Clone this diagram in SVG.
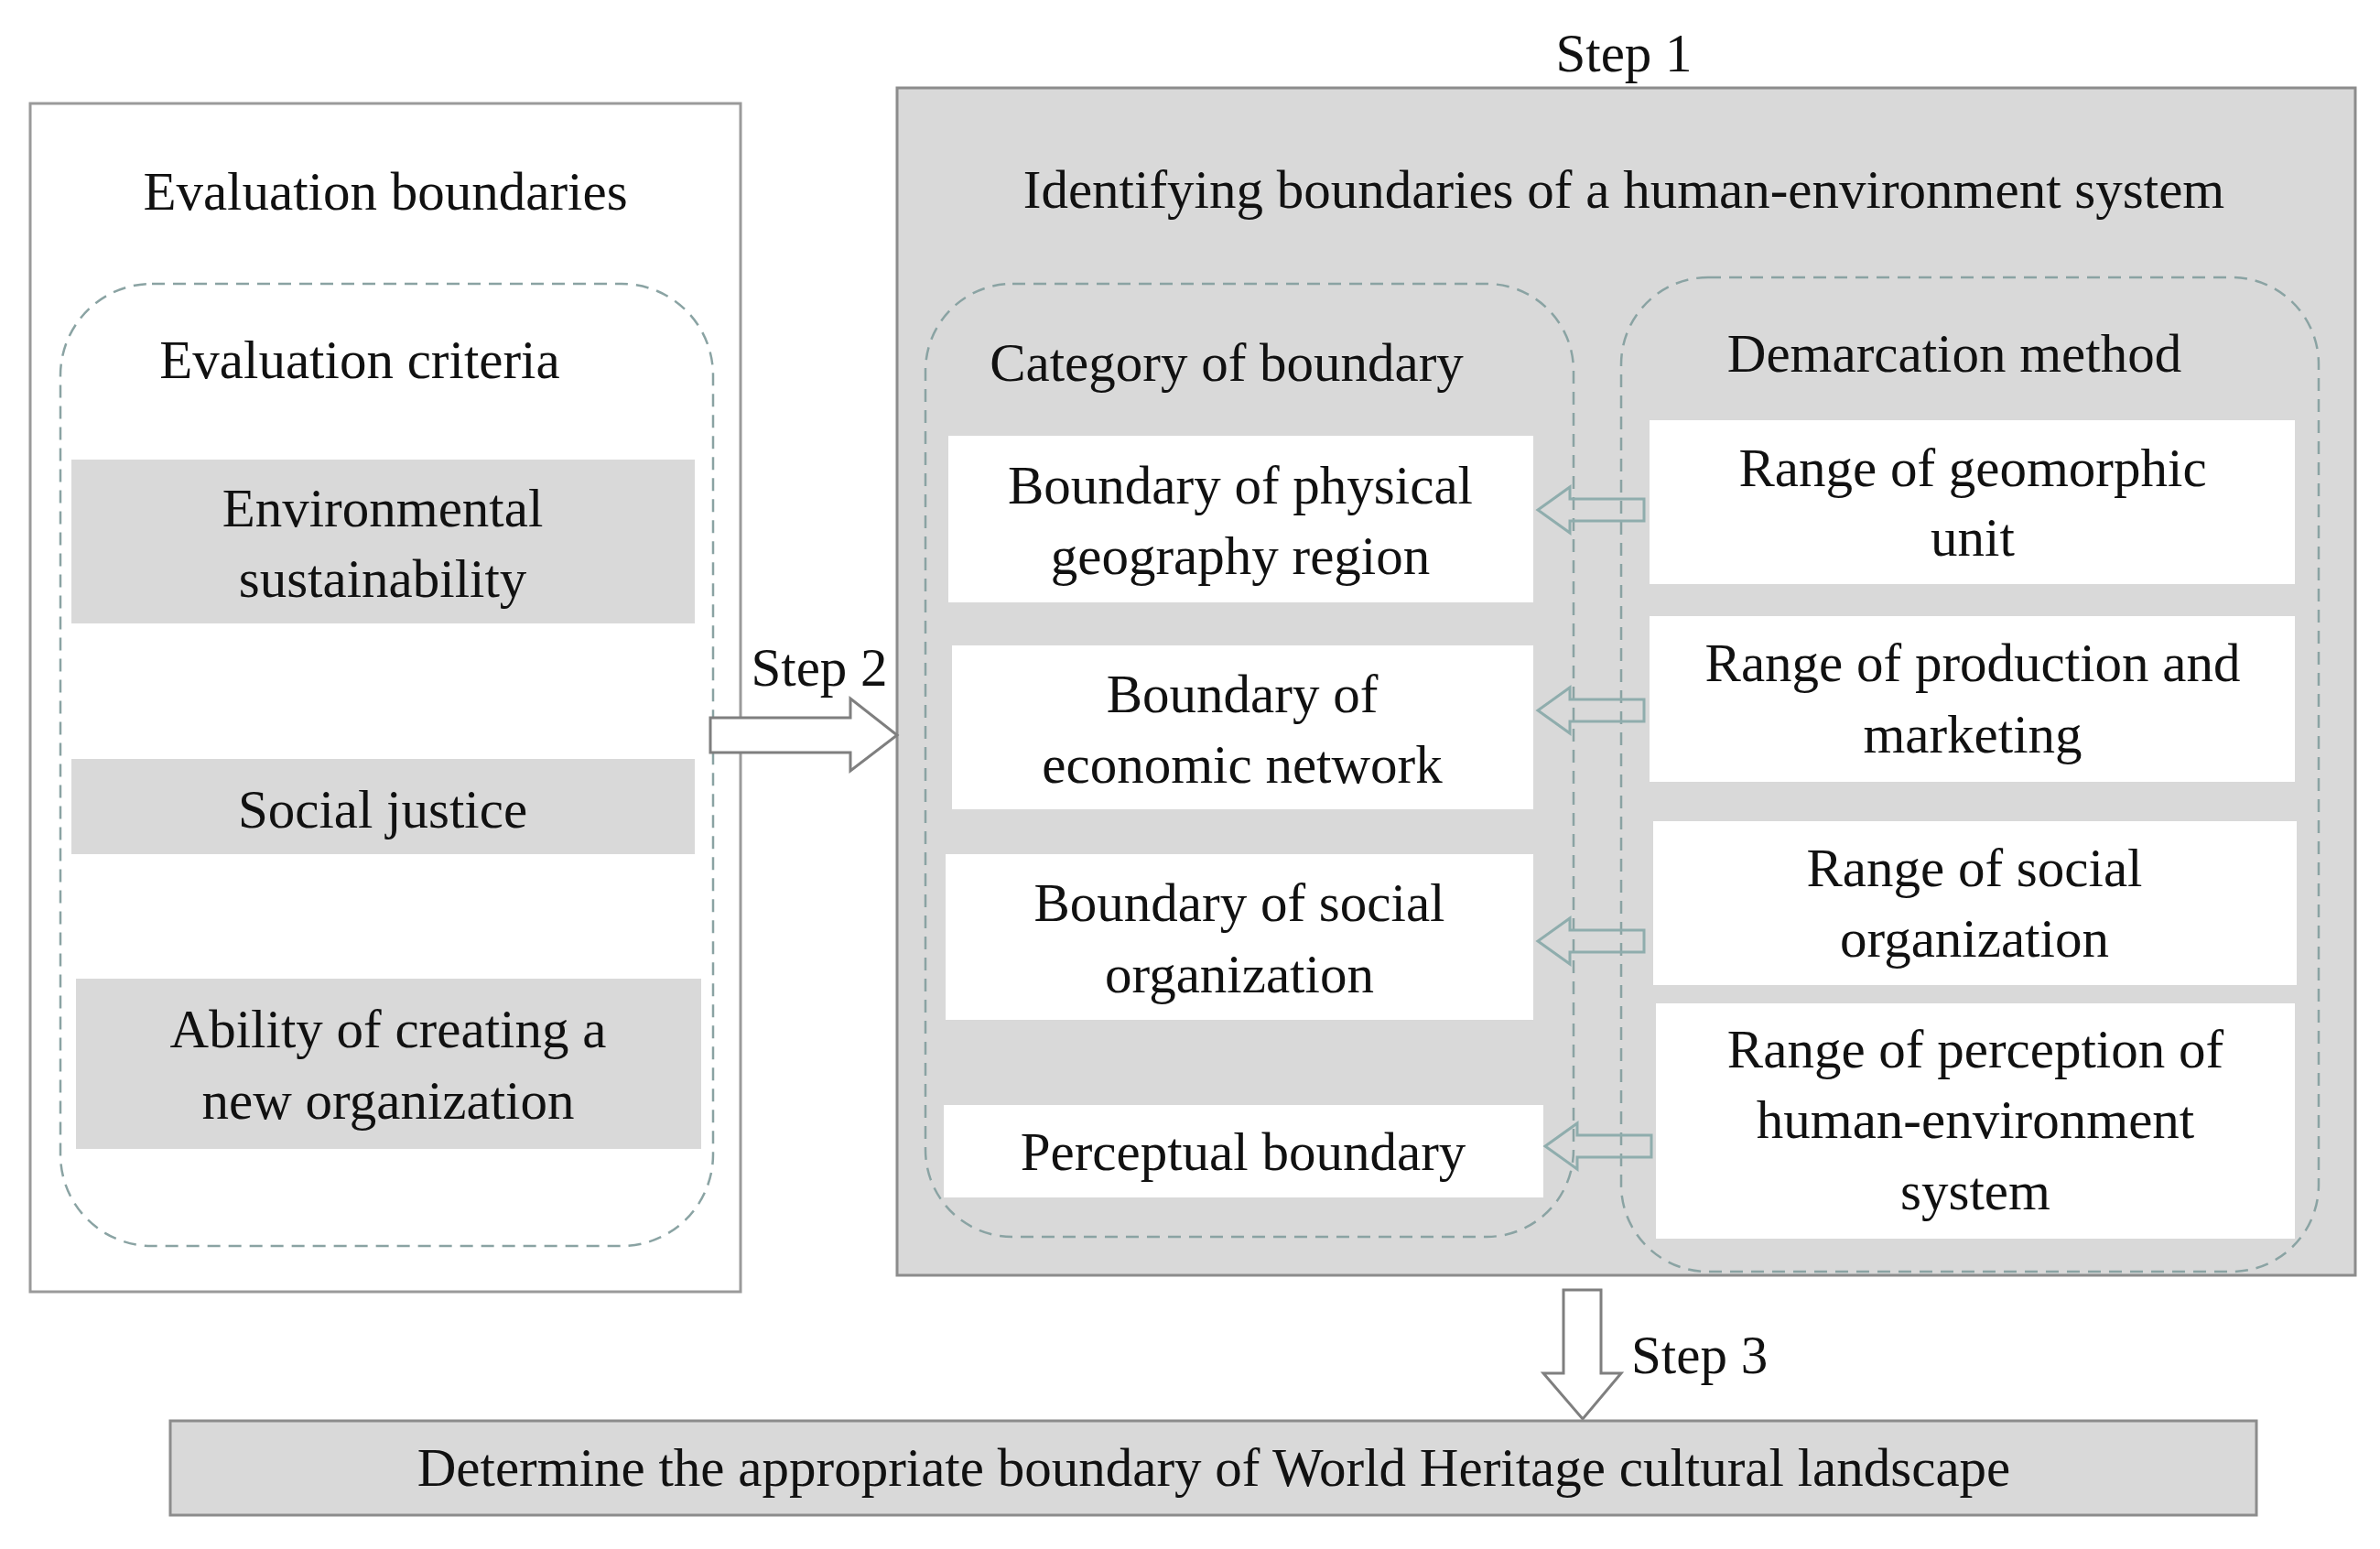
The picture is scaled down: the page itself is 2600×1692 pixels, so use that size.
<svg xmlns="http://www.w3.org/2000/svg" width="2600" height="1692" viewBox="0 0 2600 1692">
<style>
text{font-family:"Liberation Serif","Times New Roman",serif;font-size:59px;fill:#111;text-anchor:middle}
.dash{fill:none;stroke:#8aa3a3;stroke-width:2.5;stroke-dasharray:14 9}
.g{fill:#d9d9d9}
.w{fill:#fff}
.la{fill:none;stroke:#8fadad;stroke-width:3}
.ha{fill:#fff;stroke:#7f7f7f;stroke-width:3}
</style>
<rect width="2600" height="1692" fill="#fff"/>
<g id="eval">
<rect x="33" y="113" width="776" height="1298" fill="#fff" stroke="#9a9a9a" stroke-width="3"/>
<text x="421" y="229">Evaluation boundaries</text>
<rect class="dash" x="66" y="310" width="713" height="1051" rx="100"/>
<text x="393" y="413">Evaluation criteria</text>
<rect class="g" x="78" y="502" width="681" height="179"/>
<text x="418" y="575">Environmental</text><text x="418" y="652">sustainability</text>
<rect class="g" x="78" y="829" width="681" height="104"/>
<text x="418" y="904">Social justice</text>
<rect class="g" x="83" y="1069" width="683" height="186"/>
<text x="424" y="1144">Ability of creating a</text><text x="424" y="1222">new organization</text>
</g>
<g id="step1">
<text x="1774" y="78">Step 1</text>
<rect x="980" y="96" width="1593" height="1297" fill="#d9d9d9" stroke="#8c8c8c" stroke-width="3"/>
<text x="1774" y="227">Identifying boundaries of a human-environment system</text>
<rect class="dash" x="1011" y="310" width="708" height="1041" rx="95"/>
<rect class="dash" x="1771" y="303" width="762" height="1086" rx="95"/>
<text x="1340" y="416">Category of boundary</text>
<text x="2135" y="406">Demarcation method</text>
</g>
<g id="categories">
<rect class="w" x="1036" y="476" width="639" height="182"/>
<text x="1355" y="550">Boundary of physical</text><text x="1355" y="627">geography region</text>
<rect class="w" x="1040" y="705" width="635" height="179"/>
<text x="1357" y="778">Boundary of</text><text x="1357" y="855">economic network</text>
<rect class="w" x="1033" y="933" width="642" height="181"/>
<text x="1354" y="1006">Boundary of social</text><text x="1354" y="1084">organization</text>
<rect class="w" x="1031" y="1207" width="655" height="101"/>
<text x="1358" y="1278">Perceptual boundary</text>
</g>
<g id="methods">
<rect class="w" x="1802" y="459" width="705" height="179"/>
<text x="2155" y="531">Range of geomorphic</text><text x="2155" y="607">unit</text>
<rect class="w" x="1802" y="673" width="705" height="181"/>
<text x="2155" y="744">Range of production and</text><text x="2155" y="822">marketing</text>
<rect class="w" x="1806" y="897" width="703" height="179"/>
<text x="2157" y="968">Range of social</text><text x="2157" y="1045">organization</text>
<rect class="w" x="1809" y="1096" width="698" height="257"/>
<text x="2158" y="1166">Range of perception of</text><text x="2158" y="1243">human-environment</text><text x="2158" y="1321">system</text>
</g>
<g id="connectors">
<path class="la" d="M1796,545 H1715 V532 L1680,557 L1715,582 V569 H1796 Z"/>
<path class="la" d="M1796,764 H1715 V751 L1680,776 L1715,801 V788 H1796 Z"/>
<path class="la" d="M1796,1016 H1715 V1003 L1680,1028 L1715,1053 V1040 H1796 Z"/>
<path class="la" d="M1804,1240 H1723 V1227 L1688,1252 L1723,1277 V1264 H1804 Z"/>
<path class="ha" d="M776,784 H929 V763 L980,803 L929,842 V822 H776 Z"/>
<text x="895" y="749">Step 2</text>
<path class="ha" d="M1708,1409 H1749 V1500 H1771 L1729,1550 L1686,1500 H1708 Z"/>
<text x="1782" y="1500" style="text-anchor:start">Step 3</text>
</g>
<g id="result">
<rect x="186" y="1552" width="2279" height="103" fill="#d9d9d9" stroke="#8c8c8c" stroke-width="3"/>
<text x="1326" y="1623">Determine the appropriate boundary of World Heritage cultural landscape</text>
</g>
</svg>
